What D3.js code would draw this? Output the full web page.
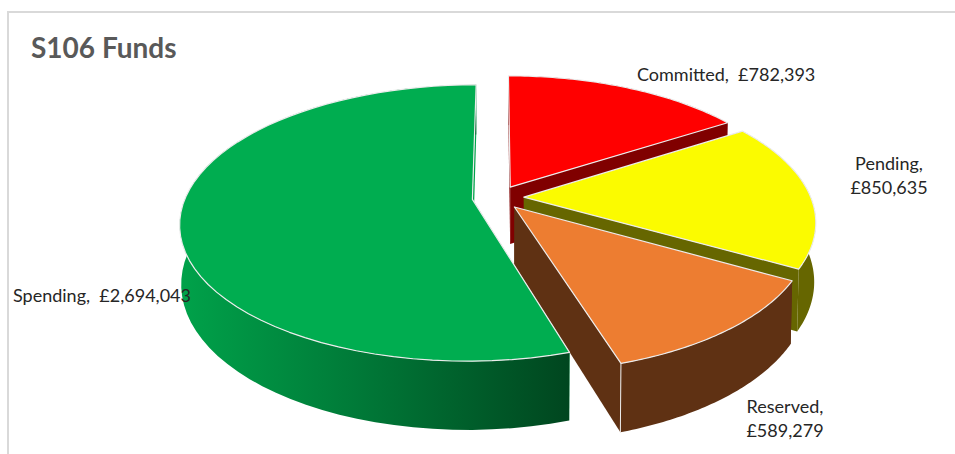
<!DOCTYPE html>
<html>
<head>
<meta charset="utf-8">
<script src="https://cdnjs.cloudflare.com/ajax/libs/d3/7.8.5/d3.min.js"></script>
<style>
html,body{margin:0;padding:0;background:#fff;}
svg{display:block;}
text{font-family:Lato,"Open Sans",sans-serif;}
</style>
</head>
<body>
<svg id="chart" width="955" height="454"></svg>
<script>
// S106 funding split, clockwise from twelve o'clock
const categories = ["Committed", "Pending", "Reserved", "Spending"];
const amounts = [782393, 850635, 589279, 2694043];
const topColors = ["#ff0000", "#fbfb00", "#ed7d31", "#00ad50"];
const wallColors = ["#800000", "#666600", "#5f3113", "#00813c"];
const chartTitle = "S106 Funds";

// Camera and pie proportions for the exploded 3D pie
const W = 955, H = 454;
const cx = 498, cy = 197.5;
const radiusX = 287, radiusY = 133.5;
const perspective = 0.171;   // far rim shrinks, near rim grows
const explode = 0.09;        // slice offset along its bisector, in radii
const baseShrink = 0.995;    // lower face sits further from the camera
const depth = 57.5;

const svg = d3.select("#chart");
const defs = svg.append("defs");

const greenRim = defs.append("linearGradient").attr("id", "greenRim")
  .attr("x1", 0).attr("x2", 1).attr("y1", 0).attr("y2", 0);
greenRim.append("stop").attr("offset", 0).attr("stop-color", "#00a24a");
greenRim.append("stop").attr("offset", 0.45).attr("stop-color", "#007a38");
greenRim.append("stop").attr("offset", 1).attr("stop-color", "#00461f");

// Frame of the chart area: top and left rules only
svg.append("path")
  .attr("d", d3.line()([[8, H], [8, 12], [W, 12]]))
  .attr("fill", "none").attr("stroke", "#d9d9d9").attr("stroke-width", 2);

svg.append("text").attr("x", 31).attr("y", 58)
  .attr("font-size", 28).attr("font-weight", 700).attr("fill", "#595959")
  .text(chartTitle);

const pie = d3.pie().sort(null).value(d => d.value);
const slices = pie(categories.map((name, i) => ({name, value: amounts[i], i})));

// Projects a point on the unit pie plane to the screen; lower=true uses the bottom face
function project(u, v, lower) {
  const s = 1 / (1 + perspective * v);
  const b = lower ? baseShrink : 1;
  return [
    cx + radiusX * u * s * b,
    cy - radiusY * v * s * b + (lower ? depth * s : 0)
  ];
}

const line = d3.line();

slices.forEach(slice => {
  const mid = (slice.startAngle + slice.endAngle) / 2;
  const ox = explode * Math.sin(mid), oy = explode * Math.cos(mid);
  slice.apex = lower => project(ox, oy, lower);
  slice.rim = (a, lower) => project(ox + Math.sin(a), oy + Math.cos(a), lower);
  const span = slice.endAngle - slice.startAngle;
  slice.arcAngles = d3.range(0, 61).map(k => slice.startAngle + span * k / 60);
});

function wall(slice, angle) {
  return line([slice.apex(false), slice.rim(angle, false), slice.rim(angle, true), slice.apex(true)]) + "Z";
}

function rimBand(slice) {
  const upper = slice.arcAngles.map(a => slice.rim(a, false));
  const lowerEdge = slice.arcAngles.map(a => slice.rim(a, true)).reverse();
  return line(upper.concat(lowerEdge)) + "Z";
}

function topFace(slice) {
  return line([slice.apex(false)].concat(slice.arcAngles.map(a => slice.rim(a, false)))) + "Z";
}

// Painter's order: far slice first, the large near slice last
const edgeColor = "#ececec";
[0, 1, 2, 3].forEach(i => {
  const slice = slices[i];
  const g = svg.append("g").attr("class", "slice");
  const wallFill = i === 3 ? "#00a24a" : wallColors[i];
  g.append("path").attr("d", wall(slice, slice.startAngle)).attr("fill", wallFill);
  g.append("path").attr("d", wall(slice, slice.endAngle)).attr("fill", wallFill);
  g.append("path").attr("d", rimBand(slice))
    .attr("fill", i === 3 ? "url(#greenRim)" : wallColors[i]);
  // Vertical corners where the rim meets the flat walls
  g.append("path")
    .attr("d", line([slice.rim(slice.endAngle, false), slice.rim(slice.endAngle, true)]))
    .attr("stroke", i === 2 ? edgeColor : "none").attr("stroke-width", 1);
  g.append("path").attr("d", topFace(slice))
    .attr("fill", topColors[i])
    .attr("stroke", edgeColor).attr("stroke-width", 1.2).attr("stroke-linejoin", "round");
});

// Data labels: "Name,  £value", split over two lines where the source does
const money = d3.format(",");
const labelStyle = {size: 18, fill: "#262626"};
const labelPlacement = [
  {lines: 1, x: 637, y: 81, anchor: "start"},
  {lines: 2, x: 889, y: 170, anchor: "middle"},
  {lines: 2, x: 785, y: 413, anchor: "middle"},
  {lines: 1, x: 13, y: 302, anchor: "start"}
];
categories.forEach((name, i) => {
  const place = labelPlacement[i];
  const value = "£" + money(amounts[i]);
  const rows = place.lines === 1 ? [name + ",\u00a0\u00a0" + value] : [name + ",", value];
  const t = svg.append("text")
    .attr("font-size", labelStyle.size).attr("fill", labelStyle.fill)
    .attr("text-anchor", place.anchor);
  rows.forEach((row, r) => {
    t.append("tspan").attr("x", place.x).attr("y", place.y + r * 24).text(row);
  });
});
</script>
</body>
</html>
